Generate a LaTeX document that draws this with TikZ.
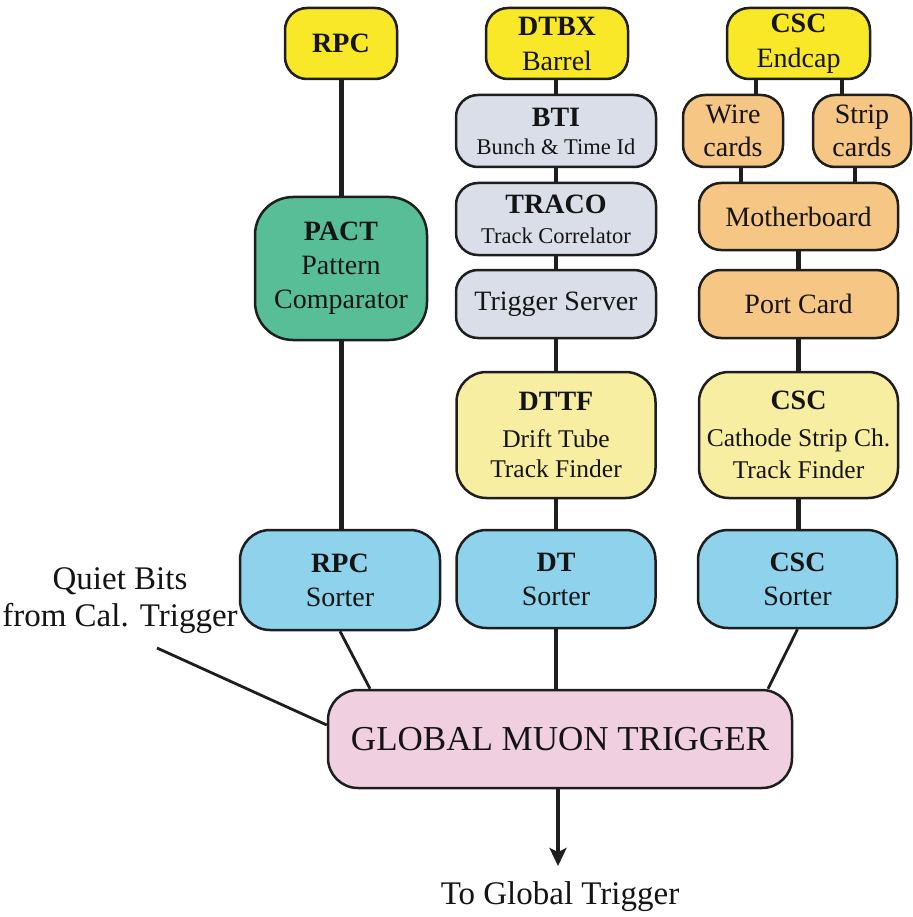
\documentclass[tikz,border=0pt]{standalone}
\usepackage{fontspec}
\setmainfont{Liberation Serif}
\usetikzlibrary{arrows.meta,calc}

\definecolor{edge}{RGB}{30,30,30}
\definecolor{ink}{RGB}{20,20,20}
\definecolor{srcyellow}{RGB}{248,232,40}
\definecolor{dtgray}{RGB}{218,222,232}
\definecolor{pactgreen}{RGB}{88,190,152}
\definecolor{tfyellow}{RGB}{248,238,162}
\definecolor{cscorange}{RGB}{246,198,132}
\definecolor{sortblue}{RGB}{142,210,236}
\definecolor{gmtpink}{RGB}{240,208,224}

\newcommand{\subfont}{\fontsize{22.5}{27}\selectfont}
\newcommand{\midfont}{\fontsize{25.5}{30}\selectfont}

\begin{document}
\begin{tikzpicture}[x=1pt,y=-1pt,
  box/.style={draw=edge, line width=2.5pt, rounded corners=22pt, align=center,
              inner sep=0pt, text=ink, font=\fontsize{28}{34}\selectfont},
  src/.style={box, fill=srcyellow, minimum height=71pt},
  dtbox/.style={box, fill=dtgray, minimum width=200pt},
  cscbox/.style={box, fill=cscorange},
  tfbox/.style={box, fill=tfyellow, minimum width=199pt, minimum height=126pt, rounded corners=30pt},
  sortbox/.style={box, fill=sortblue, minimum width=199pt, minimum height=98pt, rounded corners=30pt},
  conn/.style={draw=edge, line width=4.5pt},
  feed/.style={draw=edge, line width=2.8pt},
  label/.style={inner sep=0pt, text=ink, align=center, font=\fontsize{33}{37}\selectfont}]

\useasboundingbox (0,0) rectangle (912,917);

% source detectors
\node[src, minimum width=112pt] (rpc)  at (341,43.5) {\bfseries RPC};
\node[src, minimum width=142pt] (dtbx) at (557,43.5) {{\bfseries DTBX}\\[1pt]Barrel};
\node[src, minimum width=143pt] (csc)  at (798.5,43.5) {{\bfseries CSC}\\[1pt]Endcap};

% RPC chain
\node[box, fill=pactgreen, minimum width=172pt, minimum height=143pt, rounded corners=38pt]
  (pact) at (341,268.5) {{\bfseries PACT}\\Pattern\\Comparator};

% DT chain
\node[dtbox, minimum height=72pt] (bti)   at (556,131) {{\bfseries BTI}\\[-6pt]{\subfont Bunch \& Time Id}};
\node[dtbox, minimum height=72pt] (traco) at (556,219) {{\bfseries TRACO}\\[-4pt]{\subfont Track Correlator}};
\node[dtbox, minimum height=68pt] (ts)    at (556,304) {Trigger Server};
\node[tfbox] (dttf) at (556,435) {{\bfseries DTTF}\\[3pt]{\midfont Drift Tube}\\[-4pt]{\midfont Track Finder}};

% CSC chain
\node[cscbox, minimum width=100pt, minimum height=72pt] (wire)  at (733,131) {Wire\\[-1pt]cards};
\node[cscbox, minimum width=98pt,  minimum height=72pt] (strip) at (862,131) {Strip\\[-1pt]cards};
\node[cscbox, minimum width=199pt, minimum height=67pt] (mb)    at (798.5,216.5) {Motherboard};
\node[cscbox, minimum width=199pt, minimum height=68pt] (port)  at (798.5,304) {Port Card};
\node[tfbox] (csctf) at (798.5,435) {{\bfseries CSC}\\[3pt]{\midfont Cathode Strip Ch.}\\[-2pt]{\midfont Track Finder}};

% sorters
\node[sortbox, minimum width=200pt, minimum height=100pt] (rpcs) at (340,580) {{\bfseries RPC}\\Sorter};
\node[sortbox] (dts)  at (556,579) {{\bfseries DT}\\Sorter};
\node[sortbox] (cscs) at (797.5,579) {{\bfseries CSC}\\Sorter};

% global muon trigger
\node[box, fill=gmtpink, minimum width=464pt, minimum height=98pt, rounded corners=30pt,
      font=\fontsize{35}{40}\selectfont] (gmt) at (560,739) {GLOBAL MUON TRIGGER};

% free labels
\node[label] (quiet) at (120,601) {Quiet Bits\\from Cal. Trigger};
\node[label] (out)   at (560,897) {To Global Trigger};

% helper coordinates for off-centre taps
\coordinate (xw)  at (756,0);
\coordinate (xs)  at (842,0);
\coordinate (xwm) at (741,0);
\coordinate (xsm) at (855,0);
\coordinate (xrg) at (370,0);
\coordinate (xcg) at (768,0);
\coordinate (qstart) at (157,648);
\coordinate (tip) at (558,866);

% RPC connectors
\draw[conn, line width=5pt] (rpc.south) -- (pact.north);
\draw[conn, line width=5pt] (pact.south) -- (rpcs.north -| pact.south);

% DT connectors
\draw[conn] (dtbx.south -| bti.north) -- (bti.north);
\draw[conn] (bti.south) -- (traco.north);
\draw[conn] (traco.south) -- (ts.north);
\draw[conn] (ts.south) -- (dttf.north);
\draw[conn] (dttf.south) -- (dts.north);

% CSC connectors
\draw[conn] (csc.south -| xw) -- (wire.north -| xw);
\draw[conn] (csc.south -| xs) -- (strip.north -| xs);
\draw[conn] (wire.south -| xwm) -- (mb.north -| xwm);
\draw[conn] (strip.south -| xsm) -- (mb.north -| xsm);
\draw[conn] (mb.south) -- (port.north);
\draw[conn] (port.south) -- (csctf.north);
\draw[conn] (csctf.south -| mb.south) -- (cscs.north -| mb.south);

% sorters into the global muon trigger
\draw[feed] (rpcs.south) -- (gmt.north -| xrg);
\draw[conn, line width=3.5pt] (dts.south) -- (gmt.north -| dts.south);
\draw[feed] (cscs.south) -- (gmt.north -| xcg);
\draw[feed] (qstart) -- ($(gmt.west)+(0,-14)$);

% output
\draw[conn, line width=4pt, -{Stealth[length=18pt,width=17pt,inset=4pt]}] (gmt.south -| tip) -- (tip);

\end{tikzpicture}
\end{document}
